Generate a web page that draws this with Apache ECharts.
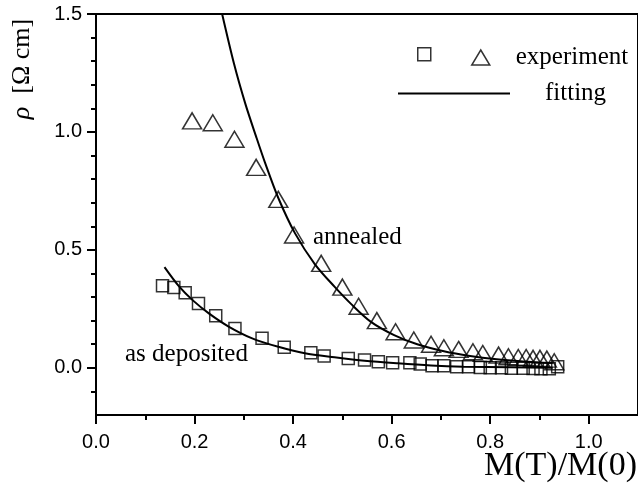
<!DOCTYPE html>
<html>
<head>
<meta charset="utf-8">
<script src="https://cdn.jsdelivr.net/npm/echarts@6/dist/echarts.min.js"></script>
<style>
html, body { margin: 0; padding: 0; background: #fff; }
#chart { width: 638px; height: 486px; }
</style>
</head>
<body>
<div id="chart"></div>
<script>
// 实验点: as deposited
const depositedX = [0.135, 0.158, 0.181, 0.208, 0.243, 0.282, 0.337, 0.382, 0.436, 0.463, 0.512, 0.545, 0.573, 0.602, 0.637, 0.658, 0.682, 0.706, 0.732, 0.756, 0.780, 0.800, 0.823, 0.843, 0.867, 0.887, 0.903, 0.920, 0.937]
const depositedY = [0.348, 0.341, 0.318, 0.273, 0.221, 0.167, 0.125, 0.087, 0.064, 0.050, 0.040, 0.033, 0.026, 0.022, 0.022, 0.016, 0.009, 0.009, 0.005, 0.005, 0.001, 0.000, 0.000, -0.002, -0.002, -0.003, -0.004, -0.004, 0.005]

// 实验点: annealed
const annealedX = [0.195, 0.237, 0.281, 0.325, 0.370, 0.402, 0.457, 0.500, 0.533, 0.570, 0.608, 0.645, 0.680, 0.706, 0.736, 0.765, 0.785, 0.817, 0.837, 0.857, 0.873, 0.887, 0.901, 0.915, 0.930]
const annealedY = [1.047, 1.039, 0.969, 0.850, 0.714, 0.563, 0.443, 0.342, 0.261, 0.200, 0.153, 0.118, 0.100, 0.085, 0.078, 0.068, 0.061, 0.054, 0.047, 0.044, 0.044, 0.040, 0.040, 0.037, 0.026]

// 拟合曲线
const depositedFitX = [0.139, 0.169, 0.196, 0.229, 0.270, 0.317, 0.370, 0.424, 0.484, 0.545, 0.612, 0.680, 0.746, 0.840, 0.927]
const depositedFitY = [0.427, 0.344, 0.287, 0.231, 0.174, 0.125, 0.089, 0.062, 0.045, 0.030, 0.019, 0.010, 0.005, 0.002, 0.000]
const annealedFitX = [0.256, 0.280, 0.303, 0.325, 0.343, 0.370, 0.404, 0.444, 0.484, 0.518, 0.558, 0.605, 0.652, 0.706, 0.759, 0.813, 0.867, 0.927]
const annealedFitY = [1.50, 1.29, 1.12, 0.98, 0.87, 0.72, 0.57, 0.44, 0.344, 0.27, 0.195, 0.139, 0.100, 0.070, 0.050, 0.036, 0.027, 0.020]

// 刻度
const xTicks = [0, 0.2, 0.4, 0.6, 0.8, 1.0]
const xMinorTicks = [0.1, 0.3, 0.5, 0.7, 0.9]
const yTicks = [0, 0.5, 1.0, 1.5]
const yMinorTicks = [-0.1, 0.1, 0.2, 0.3, 0.4, 0.6, 0.7, 0.8, 0.9, 1.1, 1.2, 1.3, 1.4]

const zip = (xs, ys) => xs.map((x, i) => [x, ys[i]])

const SANS = 'Liberation Sans'
const SERIF = 'Liberation Serif'

const myChart = echarts.init(document.getElementById('chart'))

const option = {
  animation: false,
  grid: {
    left: 96,
    right: -5,
    top: 14,
    bottom: 71,
    show: true,
    borderColor: '#000',
    borderWidth: 2
  },
  legend: [
    {
      left: 412,
      top: 42,
      itemWidth: 13,
      itemHeight: 13,
      selectedMode: false,
      formatter: () => '',
      data: [{ name: 'as deposited', icon: 'rect', itemStyle: { color: 'rgba(0,0,0,0)', borderColor: '#000', borderWidth: 1.5 } }]
    },
    {
      left: 466,
      top: 40,
      itemWidth: 18,
      itemHeight: 15,
      selectedMode: false,
      formatter: () => 'experiment',
      textStyle: { fontFamily: SERIF, fontSize: 25, color: '#000', padding: [0, 0, 0, 21] },
      data: [{ name: 'annealed', icon: 'triangle', itemStyle: { color: 'rgba(0,0,0,0)', borderColor: '#000', borderWidth: 1.5 } }]
    },
    {
      left: 393,
      top: 76,
      itemWidth: 112,
      itemHeight: 2,
      selectedMode: false,
      textStyle: { fontFamily: SERIF, fontSize: 25, color: '#000', padding: [0, 0, 0, 30] },
      data: [{ name: 'fitting', icon: 'rect', itemStyle: { color: '#000', borderWidth: 0 } }]
    }
  ],
  xAxis: [
    {
      type: 'value',
      min: 0,
      max: 1.1,
      axisLine: { onZero: false, lineStyle: { color: '#000', width: 2 } },
      axisTick: { customValues: xTicks, length: 9, lineStyle: { color: '#000', width: 2 } },
      axisLabel: { customValues: xTicks, margin: 17, fontFamily: SANS, fontSize: 20, color: '#000', formatter: v => v.toFixed(1) },
      splitLine: { show: false }
    },
    {
      type: 'value',
      min: 0,
      max: 1.1,
      position: 'bottom',
      axisLine: { show: false, onZero: false },
      axisTick: { customValues: xMinorTicks, length: 5, lineStyle: { color: '#000', width: 2 } },
      axisLabel: { show: false },
      splitLine: { show: false }
    }
  ],
  yAxis: [
    {
      type: 'value',
      min: -0.2,
      max: 1.5,
      axisLine: { show: true, onZero: false, lineStyle: { color: '#000', width: 2 } },
      axisTick: { show: true, customValues: yTicks, length: 9, lineStyle: { color: '#000', width: 2 } },
      axisLabel: { customValues: yTicks, margin: 14, fontFamily: SANS, fontSize: 20, color: '#000', formatter: v => v.toFixed(1) },
      splitLine: { show: false }
    },
    {
      type: 'value',
      min: -0.2,
      max: 1.5,
      position: 'left',
      axisLine: { show: false, onZero: false },
      axisTick: { show: true, customValues: yMinorTicks, length: 5, lineStyle: { color: '#000', width: 2 } },
      axisLabel: { show: false },
      splitLine: { show: false }
    }
  ],
  series: [
    {
      name: 'as deposited',
      type: 'scatter',
      symbol: 'rect',
      symbolSize: 12,
      itemStyle: { color: 'rgba(0,0,0,0)', borderColor: '#000', borderWidth: 1.5 },
      data: zip(depositedX, depositedY)
    },
    {
      name: 'annealed',
      type: 'scatter',
      symbol: 'triangle',
      symbolSize: [19, 16],
      itemStyle: { color: 'rgba(0,0,0,0)', borderColor: '#000', borderWidth: 1.5 },
      data: zip(annealedX, annealedY)
    },
    {
      name: 'fitting',
      type: 'line',
      smooth: 0.3,
      showSymbol: false,
      lineStyle: { color: '#000', width: 2 },
      data: zip(depositedFitX, depositedFitY)
    },
    {
      name: 'fitting',
      type: 'line',
      smooth: 0.3,
      showSymbol: false,
      lineStyle: { color: '#000', width: 2 },
      data: zip(annealedFitX, annealedFitY)
    }
  ],
  graphic: [
    {
      type: 'text',
      x: 22,
      y: 69,
      rotation: Math.PI / 2,
      style: {
        text: '{i|ρ}  [Ω cm]',
        font: '26px ' + SERIF,
        fill: '#000',
        align: 'center',
        verticalAlign: 'middle',
        rich: { i: { fontStyle: 'italic', fontFamily: SERIF, fontSize: 26 } }
      }
    },
    {
      type: 'text',
      x: 637,
      y: 466,
      style: { text: 'M(T)/M(0)', font: '34px ' + SERIF, fill: '#000', align: 'right', verticalAlign: 'middle' }
    },
    {
      type: 'text',
      x: 313,
      y: 237,
      style: { text: 'annealed', font: '25px ' + SERIF, fill: '#000', align: 'left', verticalAlign: 'middle' }
    },
    {
      type: 'text',
      x: 125,
      y: 354,
      style: { text: 'as deposited', font: '25px ' + SERIF, fill: '#000', align: 'left', verticalAlign: 'middle' }
    }
  ]
}

myChart.setOption(option)
</script>
</body>
</html>
